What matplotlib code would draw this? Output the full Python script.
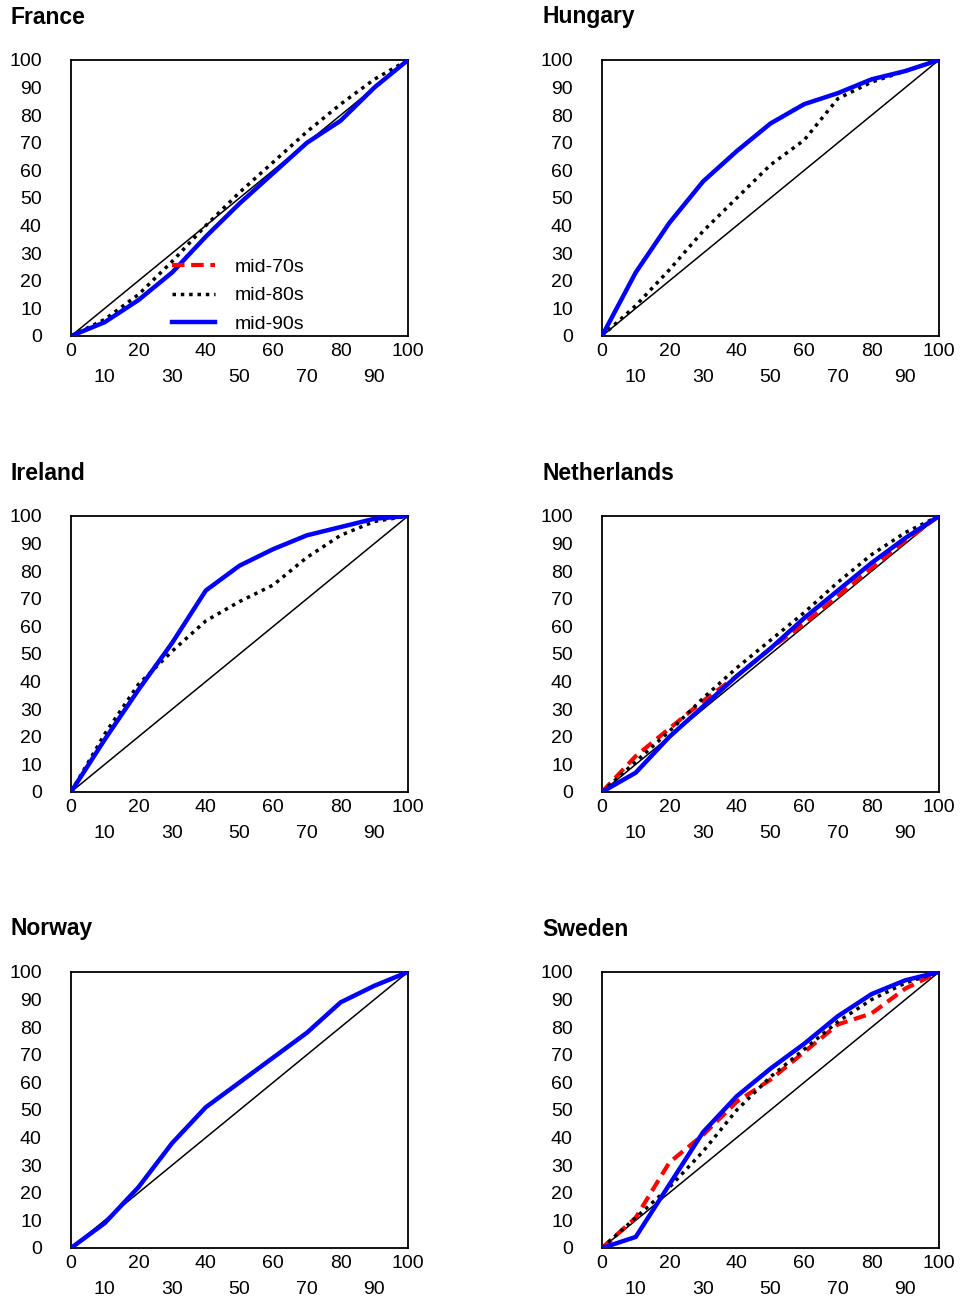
import matplotlib
matplotlib.use("Agg")
import matplotlib.pyplot as plt

plt.rcParams['font.family'] = ['Liberation Sans', 'DejaVu Sans']

pct = [0, 10, 20, 30, 40, 50, 60, 70, 80, 90, 100]
series_labels = ["mid-70s", "mid-80s", "mid-90s"]

france_80 = [0, 6, 15, 27, 40, 52, 63, 74, 84, 93, 100]
france_90 = [0, 5, 13, 23, 36, 48, 59, 70, 78, 90, 100]

hungary_80 = [0, 11, 24, 38, 50, 62, 71, 86, 92, 96, 100]
hungary_90 = [0, 23, 41, 56, 67, 77, 84, 88, 93, 96, 100]

ireland_80 = [0, 21, 39, 51, 62, 69, 75, 85, 93, 98, 100]
ireland_90 = [0, 19, 37, 54, 73, 82, 88, 93, 96, 99, 100]

netherlands_70 = [0, 13, 23, 33, 42, 52, 61, 71, 81, 91, 100]
netherlands_80 = [0, 11, 22, 34, 45, 55, 65, 76, 86, 94, 100]
netherlands_90 = [0, 7, 20, 31, 42, 52, 63, 73, 83, 92, 100]

norway_90 = [0, 9, 22, 38, 51, 60, 69, 78, 89, 95, 100]

sweden_70 = [0, 11, 31, 41, 53, 61, 71, 81, 85, 94, 100]
sweden_80 = [0, 11, 22, 35, 50, 62, 72, 82, 90, 96, 100]
sweden_90 = [0, 4, 23, 42, 55, 65, 74, 84, 92, 97, 100]

panels = [
    ("France", None, france_80, france_90),
    ("Hungary", None, hungary_80, hungary_90),
    ("Ireland", None, ireland_80, ireland_90),
    ("Netherlands", netherlands_70, netherlands_80, netherlands_90),
    ("Norway", None, None, norway_90),
    ("Sweden", sweden_70, sweden_80, sweden_90),
]

major_x = [0, 20, 40, 60, 80, 100]
minor_x = [10, 30, 50, 70, 90]
y_ticks = list(range(0, 101, 10))

W, H = 960, 1303
fig = plt.figure(figsize=(W / 100, H / 100), dpi=100)

lefts = [71, 602]
tops = [60, 516, 972]
aw, ah = 337, 276
title_y = [17, 473, 929]
title_x = [10, 542]

FS = 14
for i, (name, s70, s80, s90) in enumerate(panels):
    r, c = divmod(i, 2)
    ax = fig.add_axes([lefts[c] / W, 1 - (tops[r] + ah) / H, aw / W, ah / H])
    ax.set_xlim(0, 100)
    ax.set_ylim(0, 100)
    ax.plot([0, 100], [0, 100], color='black', lw=1.1, zorder=2)
    h70, = ax.plot(pct, s70 if s70 is not None else [float('nan')] * len(pct),
                   color='#ff0000', lw=3, linestyle=(0, (3, 1.6)), zorder=3,
                   label=series_labels[0])
    h80, = ax.plot(pct, s80 if s80 is not None else [float('nan')] * len(pct),
                   color='black', lw=2.5, linestyle=(0, (1, 1.4)), zorder=4,
                   label=series_labels[1])
    h90, = ax.plot(pct, s90, color='#0000ff', lw=3.2, zorder=5,
                   label=series_labels[2])
    ax.set_yticks(y_ticks)
    ax.set_yticklabels([str(v) for v in y_ticks], fontsize=FS)
    ax.set_xticks(major_x)
    ax.set_xticklabels([str(v) for v in major_x], fontsize=FS)
    ax.set_xticks(minor_x, minor=True)
    ax.set_xticklabels([str(v) for v in minor_x], minor=True, fontsize=FS)
    ax.tick_params(axis='both', which='both', length=0)
    ax.tick_params(axis='y', pad=21)
    ax.tick_params(axis='x', which='major', pad=5)
    ax.tick_params(axis='x', which='minor', pad=24)
    for sp in ax.spines.values():
        sp.set_linewidth(1.3)
        sp.set_color('black')
    fig.text(title_x[c] / W, 1 - title_y[r] / H, name, fontsize=16.5,
             fontweight='bold', ha='left', va='center')
    if name == "France":
        ax.legend(handles=[h70, h80, h90], loc='lower left',
                  bbox_to_anchor=(0.30, 0.012), frameon=False,
                  fontsize=FS, borderpad=0, borderaxespad=0,
                  handlelength=2.2, handletextpad=1.0, labelspacing=0.55)

fig.savefig("out.png", dpi=100)
